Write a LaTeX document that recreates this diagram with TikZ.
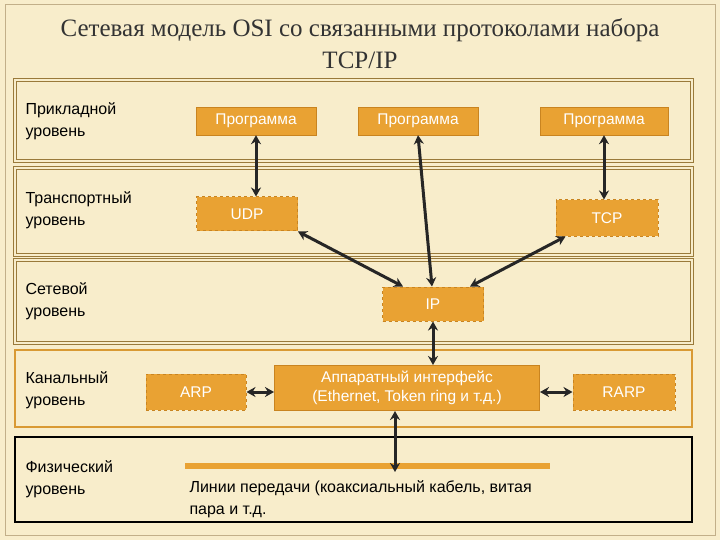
\documentclass[tikz,border=0pt]{standalone}
\usepackage{fontspec}
\setmainfont{Liberation Serif}
\newfontfamily\lsans{Liberation Sans}
\usetikzlibrary{arrows.meta}
\definecolor{bg}{HTML}{F8EDCB}
\definecolor{band}{HTML}{9A7A3A}
\definecolor{box}{HTML}{E9A233}
\definecolor{boxline}{HTML}{C98420}
\tikzset{
 prog/.style={draw=boxline,fill=box,text=white,font=\lsans\fontsize{15.5}{19}\selectfont,inner sep=0pt,align=center},
 dbox/.style={prog,dashed,line width=1pt},
 lab/.style={anchor=west,align=left,font=\lsans\fontsize{16}{22}\selectfont},
 bandd/.style={draw=band,line width=1.1pt,double=bg,double distance=2pt},
 arr/.style={line width=3pt,draw=black!85,arrows={Stealth[length=9pt,width=10pt]-Stealth[length=9pt,width=10pt]}}
}
\begin{document}
\begin{tikzpicture}[x=1pt,y=-1pt]
\useasboundingbox (0,0) rectangle (720,540);
\fill[bg] (0,0) rectangle (720,540);
\draw[band!60,line width=1pt] (5,5) rectangle (715,535);
\node[font=\fontsize{25}{32}\selectfont,align=center,text=black!80] (title) at (360,44) {Сетевая модель OSI со связанными протоколами набора\\TCP/IP};
\draw[bandd] (15,80) rectangle (692,161);
\draw[bandd] (15,168) rectangle (692,255);
\draw[bandd] (15,260) rectangle (692,343);
\draw[draw=box!80!band,line width=1.2pt] (15,350) rectangle (692,427);
\draw[black,line width=1.5pt] (15,437) rectangle (692,522);
\node[lab] (l1) at (22,121) {Прикладной\\уровень};
\node[lab] (l2) at (22,210) {Транспортный\\уровень};
\node[lab] (l3) at (22,301) {Сетевой\\уровень};
\node[lab] (l4) at (22,390) {Канальный\\уровень};
\node[lab] (l5) at (22,479) {Физический\\уровень};
\node[prog,minimum width=120pt,minimum height=28pt] (p1) at (256,121) {Программа};
\node[prog,minimum width=120pt,minimum height=28pt] (p2) at (418,121) {Программа};
\node[prog,minimum width=128pt,minimum height=28pt] (p3) at (604,121) {Программа};
\node[dbox,minimum width=101pt,minimum height=34pt] (udp) at (247,214) {UDP};
\node[dbox,minimum width=102pt,minimum height=36pt] (tcp) at (607,218) {TCP};
\node[dbox,minimum width=101pt,minimum height=34pt] (ip) at (433,304) {IP};
\node[dbox,minimum width=100pt,minimum height=36pt] (arp) at (196,392) {ARP};
\node[prog,minimum width=265pt,minimum height=45pt,line width=1pt] (hw) at (407,388) {Аппаратный интерфейс\\(Ethernet, Token ring и т.д.)};
\node[dbox,minimum width=102pt,minimum height=36pt] (rarp) at (624,392) {RARP};
\draw[box,line width=6pt] (185,466) -- coordinate[pos=0.57] (lt) (550,466);
\node[lab] (lt2) at (186,499) {Линии передачи (коаксиальный кабель, витая\\пара и т.д.};
\draw[arr] (p1.south) -- (udp.north-|p1.south);
\draw[arr] (p2.south) -- ([xshift=-1pt]ip.north);
\draw[arr] (p3.south) -- (tcp.north-|p3.south);
\draw[arr] (udp.south east) -- ([xshift=-30pt]ip.north);
\draw[arr] ([xshift=10pt]tcp.south west) -- ([xshift=37pt]ip.north);
\draw[arr] (ip.south) -- (hw.north-|ip.south);
\draw[arr] (arp.east) -- (arp.east-|hw.west);
\draw[arr] (rarp.west-|hw.east) -- (rarp.west);
\draw[arr] ([xshift=-12pt]hw.south) -- ([xshift=-12pt,yshift=-6pt]hw.south|-lt);
\end{tikzpicture}
\end{document}
